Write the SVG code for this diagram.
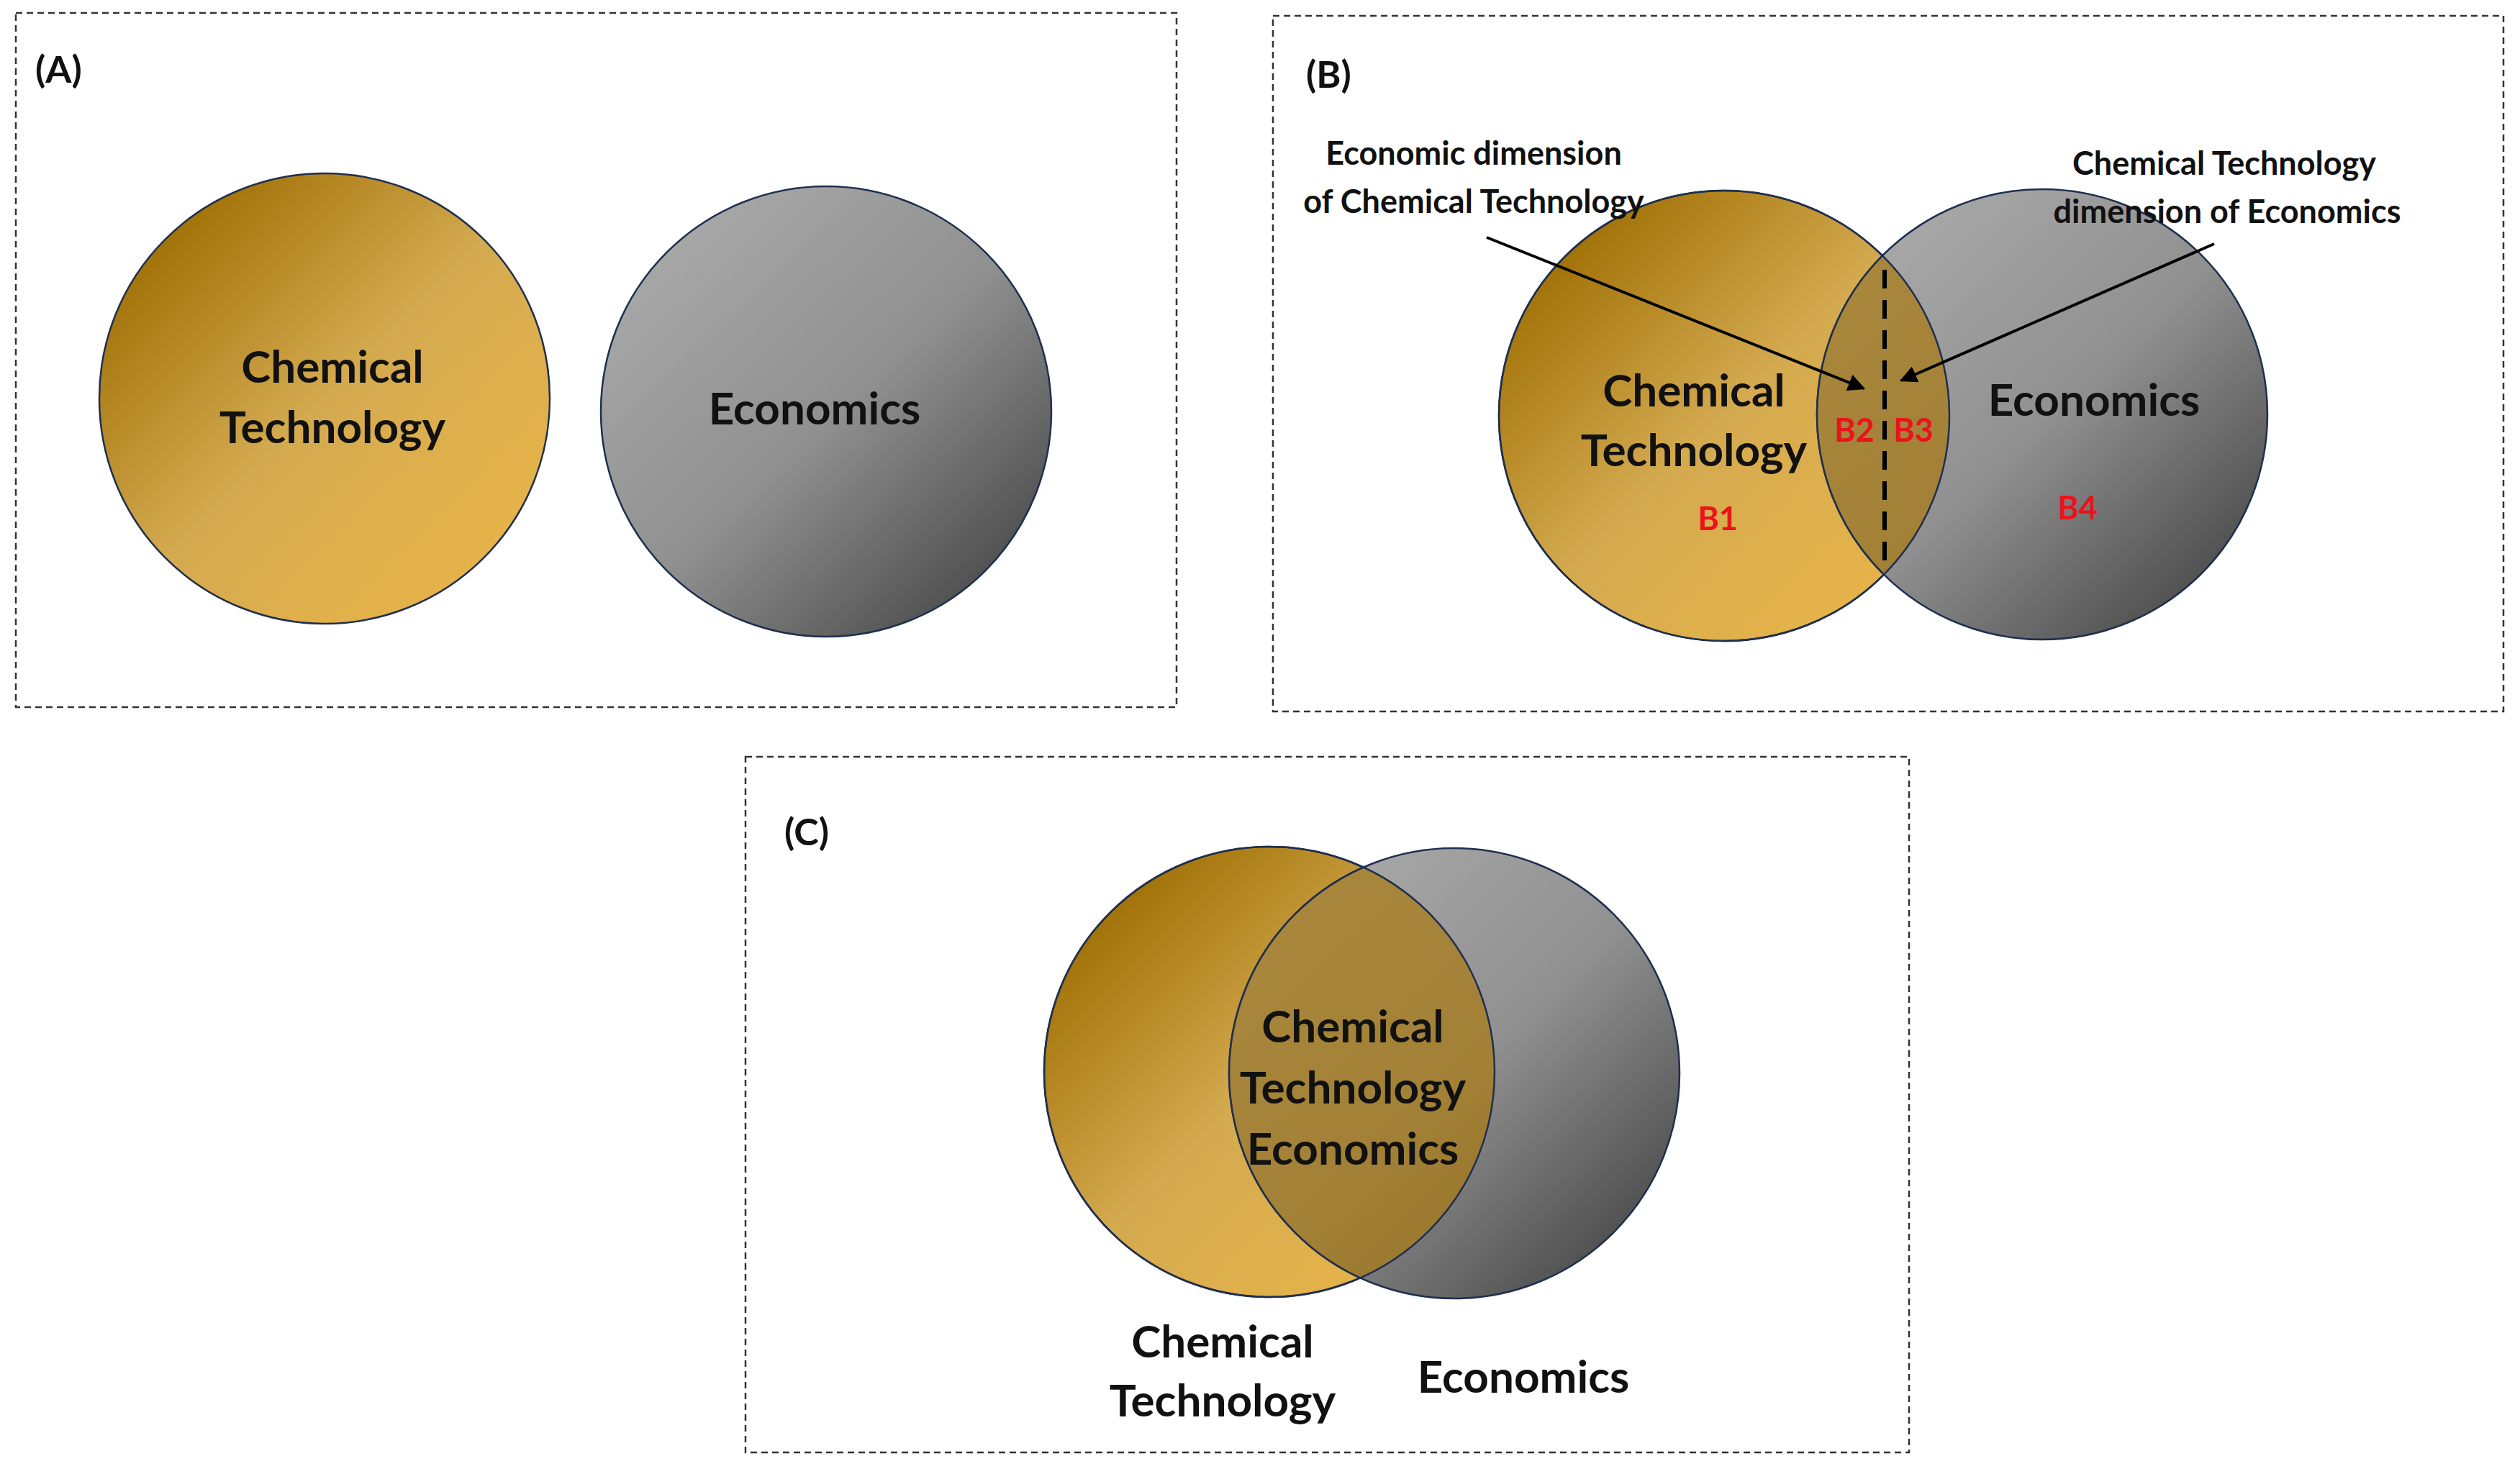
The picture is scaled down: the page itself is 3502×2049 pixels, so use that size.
<svg xmlns="http://www.w3.org/2000/svg" width="3502" height="2049" viewBox="0 0 3502 2049">
<defs>
<style>
.frame{fill:none;stroke:#333;stroke-width:2.5;stroke-dasharray:9 6}
.ct{fill:url(#gold);stroke:#1f2f4f;stroke-width:2.5}
.ec{fill:url(#gray);stroke:#1f2f4f;stroke-width:2.5}
.lens{fill:#a87c18;fill-opacity:0.75;stroke:#1f2f4f;stroke-width:2.5}
.t{font-family:Lato,"Open Sans",sans-serif;font-weight:bold;fill:#111;text-anchor:middle}
.big{font-size:62px}
.lab{font-size:52px;text-anchor:start}
.sm{font-size:45px}
.red{font-size:45px;fill:#e8141c}
.arr{stroke:#000;stroke-width:4;fill:none;marker-end:url(#ah)}
</style>
<linearGradient id="gold" x1="0.1" y1="0.1" x2="0.9" y2="0.9">
<stop offset="0" stop-color="#9c6c00"/><stop offset="0.5" stop-color="#d4aa50"/><stop offset="1" stop-color="#e8b448"/>
</linearGradient>
<linearGradient id="gray" x1="0.15" y1="0.1" x2="0.9" y2="0.9">
<stop offset="0" stop-color="#a8a8a8"/><stop offset="0.5" stop-color="#909090"/><stop offset="1" stop-color="#4a4a4a"/>
</linearGradient>
<clipPath id="cB"><circle cx="2396" cy="578" r="313"/></clipPath>
<clipPath id="cC"><circle cx="1764" cy="1490" r="313"/></clipPath>
<marker id="ah" viewBox="0 0 10 10" refX="9" refY="5" markerWidth="6" markerHeight="6" orient="auto"><path d="M0,0L10,5L0,10z" fill="#000"/></marker>
</defs>

<g id="panelA">
<rect class="frame" x="22" y="18" width="1613" height="965"/>
<text class="t lab" x="49" y="115">(A)</text>
<g id="A-ct"><circle class="ct" cx="451" cy="554" r="313"/>
<text class="t big" x="462" y="532">Chemical</text><text class="t big" x="462" y="616">Technology</text></g>
<g id="A-ec"><circle class="ec" cx="1148" cy="572" r="313"/>
<text class="t big" x="1132" y="590">Economics</text></g>
</g>

<g id="panelB">
<rect class="frame" x="1769" y="22" width="1710" height="967"/>
<text class="t lab" x="1815" y="122">(B)</text>
<g id="B-ct"><circle class="ct" cx="2396" cy="578" r="313"/></g>
<g id="B-ec"><circle class="ec" cx="2838" cy="576" r="313"/></g>
<g id="B-overlap"><circle class="lens" cx="2838" cy="576" r="313" clip-path="url(#cB)"/>
<circle cx="2396" cy="578" r="313" fill="none" stroke="#1f2f4f" stroke-width="2.5"/></g>
<line x1="2619" y1="375" x2="2619" y2="782" stroke="#000" stroke-width="6" stroke-dasharray="26 16"/>
<text class="t big" x="2354" y="565">Chemical</text><text class="t big" x="2354" y="648">Technology</text>
<text class="t big" x="2910" y="578">Economics</text>
<text class="t red" x="2387" y="737">B1</text>
<text class="t red" x="2577" y="614">B2</text>
<text class="t red" x="2659" y="614">B3</text>
<text class="t red" x="2887" y="722">B4</text>
<text class="t sm" x="2048" y="229">Economic  dimension</text>
<text class="t sm" x="2048" y="296">of Chemical Technology</text>
<text class="t sm" x="3091" y="243">Chemical Technology</text>
<text class="t sm" x="3095" y="310">dimension of Economics</text>
</g>

<g id="panelC">
<rect class="frame" x="1036" y="1052" width="1617" height="967"/>
<text class="t lab" x="1090" y="1175">(C)</text>
<g id="C-ct"><circle class="ct" cx="1764" cy="1490" r="313"/></g>
<g id="C-ec"><circle class="ec" cx="2021" cy="1492" r="313"/></g>
<g id="C-overlap"><circle class="lens" cx="2021" cy="1492" r="313" clip-path="url(#cC)"/>
<circle cx="1764" cy="1490" r="313" fill="none" stroke="#1f2f4f" stroke-width="2.5"/></g>
<text class="t big" x="1880" y="1449">Chemical</text>
<text class="t big" x="1880" y="1534">Technology</text>
<text class="t big" x="1880" y="1619">Economics</text>
<text class="t big" x="1699" y="1887">Chemical</text>
<text class="t big" x="1699" y="1969">Technology</text>
<text class="t big" x="2117" y="1936">Economics</text>
</g>

<g id="connectors">
<line class="arr" x1="2066" y1="330" x2="2590" y2="540"/>
<line class="arr" x1="3077" y1="339" x2="2642" y2="529"/>
</g>
</svg>
